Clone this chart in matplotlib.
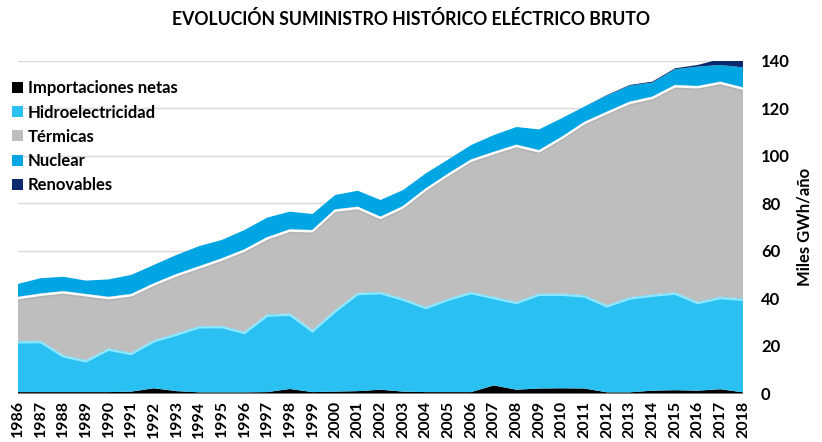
import numpy as np
import matplotlib
matplotlib.use("Agg")
import matplotlib.pyplot as plt

plt.rcParams['font.family'] = ['Lato', 'DejaVu Sans']
plt.rcParams['font.weight'] = 'bold'

years = list(range(1986, 2019))

importaciones = [0.6, 0.6, 0.6, 0.6, 0.6, 0.8, 2.2, 1.0, 0.5, 0.5, 0.5, 0.6, 1.9, 0.6, 0.8, 1.0,
                 1.6, 0.8, 0.6, 0.6, 0.6, 3.4, 1.6, 2.1, 2.2, 2.1, 0.5, 0.5, 1.2, 1.4, 1.2, 1.8, 0.5]
hidro = [21.5, 21.6, 15.6, 13.5, 18.4, 16.4, 20.3, 24.3, 27.9, 28.0, 25.5, 32.7, 31.8, 26.1, 34.3, 41.4,
         41.2, 39.2, 35.9, 39.4, 42.2, 37.3, 37.0, 40.0, 39.9, 39.3, 36.7, 40.0, 40.5, 41.2, 37.4, 38.9, 39.5]
termicas = [18.6, 19.9, 26.9, 27.8, 21.7, 24.7, 23.9, 25.0, 25.2, 28.4, 34.7, 32.5, 35.4, 42.1, 42.4, 36.2,
            31.6, 38.9, 49.8, 52.6, 55.7, 61.0, 66.1, 60.3, 65.9, 72.9, 81.4, 82.3, 83.2, 87.2, 90.8, 90.5, 88.8]
nuclear = [5.4, 6.4, 6.0, 5.6, 7.3, 8.0, 7.7, 8.0, 8.4, 7.7, 8.1, 8.2, 7.4, 6.7, 6.0, 6.7,
           7.0, 6.7, 6.3, 5.9, 6.0, 7.0, 7.4, 8.7, 7.8, 6.4, 6.8, 6.7, 5.9, 6.6, 8.1, 7.0, 8.4]
renovables = [0, 0, 0, 0, 0, 0, 0, 0, 0, 0, 0, 0, 0, 0, 0, 0,
              0, 0, 0, 0, 0, 0, 0, 0, 0, 0, 0.2, 0.3, 0.4, 0.4, 0.7, 2.5, 3.5]

labels = ["Importaciones netas", "Hidroelectricidad", "Térmicas", "Nuclear", "Renovables"]
colors = ["#000000", "#2BC0F2", "#BEBEBE", "#00A6E4", "#0B2A6B"]
yticks = [0, 20, 40, 60, 80, 100, 120, 140]

fig = plt.figure(figsize=(8.22, 4.42), dpi=100)
ax = fig.add_axes([0.0219, 0.1097, 0.8820, 0.7530])

series = [importaciones, hidro, termicas, nuclear, renovables]
polys = ax.stackplot(years, *series, colors=colors, labels=labels, linewidth=0, zorder=2)

cum = np.cumsum(np.array(series), axis=0)
# bevel highlights on top edges
ax.plot(years, cum[1] - 0.6, color="#8FE8FF", lw=1.6, zorder=3, solid_joinstyle='round')
ax.plot(years, cum[2] - 0.6, color="#FFFFFF", lw=1.6, zorder=3, solid_joinstyle='round')
ax.plot(years, cum[2] - 1.5, color="#A8A8A8", lw=0.8, alpha=0.6, zorder=3)

ax.set_xlim(1986, 2018)
ax.set_ylim(0, 140)
ax.set_yticks(yticks)
ax.set_xticks(years)
ax.set_xticklabels([str(y) for y in years], rotation=90, fontsize=11.5, fontweight='bold')
ax.yaxis.tick_right()
ax.yaxis.set_label_position("right")
ax.tick_params(axis='y', length=0, pad=13, labelsize=12)
ax.tick_params(axis='x', length=0, pad=5)
for lab in ax.get_yticklabels():
    lab.set_fontweight('bold')
ax.set_ylabel("Miles GWh/año", fontsize=12, fontweight='bold', labelpad=5)

ax.grid(axis='y', color="#D9D9D9", lw=1, zorder=0)
ax.set_axisbelow(True)
for s in ax.spines.values():
    s.set_visible(False)

fig.text(0.5, 0.958, "EVOLUCIÓN SUMINISTRO HISTÓRICO ELÉCTRICO BRUTO", ha='center', va='center',
         fontsize=12.7, fontweight='bold')

leg = fig.legend(handles=polys, labels=labels, loc='upper left', bbox_to_anchor=(0.0146, 0.818),
                 frameon=False, fontsize=12, handlelength=0.65, handleheight=0.65,
                 handletextpad=0.3, labelspacing=0.49, borderaxespad=0, borderpad=0)
for t in leg.get_texts():
    t.set_fontweight('bold')

fig.savefig("out.png", dpi=100)
